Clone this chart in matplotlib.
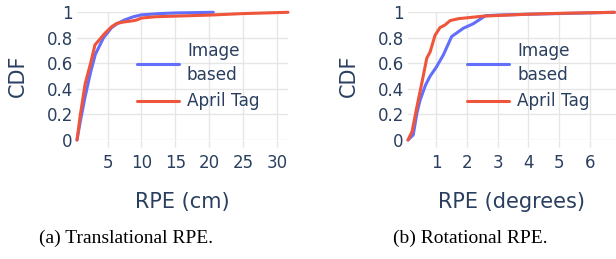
import matplotlib
matplotlib.use("Agg")
import matplotlib.pyplot as plt

# Translational RPE (cm)
trans_img_x = [0.5, 1.0, 1.7, 2.5, 3.2, 4.4, 5.6, 6.4, 7.5, 8.8, 10.0, 12.7, 15.0, 20.6]
trans_img_y = [0.0, 0.15, 0.34, 0.53, 0.67, 0.80, 0.88, 0.91, 0.94, 0.965, 0.98, 0.99, 0.995, 1.0]
trans_tag_x = [0.5, 1.0, 1.7, 2.5, 3.15, 4.6, 5.6, 6.35, 7.5, 8.8, 9.3, 10.0, 12.0, 15.0, 20.0, 25.0, 31.6]
trans_tag_y = [0.0, 0.2, 0.44, 0.6, 0.745, 0.835, 0.887, 0.913, 0.925, 0.934, 0.94, 0.955, 0.965, 0.97, 0.978, 0.99, 1.0]

# Rotational RPE (degrees)
rot_img_x = [0.08, 0.25, 0.37, 0.47, 0.65, 0.8, 1.0, 1.23, 1.5, 1.88, 2.2, 2.6, 3.0, 4.0, 5.0, 6.8]
rot_img_y = [0.0, 0.04, 0.21, 0.31, 0.43, 0.5, 0.57, 0.666, 0.81, 0.875, 0.91, 0.973, 0.978, 0.985, 0.99, 1.0]
rot_tag_x = [0.08, 0.21, 0.37, 0.55, 0.69, 0.8, 0.96, 1.12, 1.28, 1.45, 1.72, 2.53, 3.0, 4.0, 5.0, 6.8]
rot_tag_y = [0.0, 0.065, 0.26, 0.47, 0.64, 0.69, 0.82, 0.88, 0.9, 0.935, 0.95, 0.97, 0.975, 0.985, 0.992, 1.0]

trans_xticks = [5, 10, 15, 20, 25, 30]
rot_xticks = [1, 2, 3, 4, 5, 6]
yticks = [0, 0.2, 0.4, 0.6, 0.8, 1.0]
ytick_labels = ["0", "0.2", "0.4", "0.6", "0.8", "1"]

BLUE = "#636efa"
RED = "#ef553b"
TXT = "#2a3f5f"
GRID = "#e6e6e6"

plt.rcParams["font.family"] = ["DejaVu Sans"]

fig = plt.figure(figsize=(6.16, 2.59), dpi=100)
W, H = 616, 259

def make_ax(l, r, t, b):
    return fig.add_axes([l / W, 1 - b / H, (r - l) / W, (b - t) / H])

ax1 = make_ax(77, 288, 12.3, 140)
ax2 = make_ax(408, 616, 12.3, 140)

panels = [
    (ax1, trans_img_x, trans_img_y, trans_tag_x, trans_tag_y, (0.5, 31.6), trans_xticks, "RPE (cm)"),
    (ax2, rot_img_x, rot_img_y, rot_tag_x, rot_tag_y, (0.08, 6.85), rot_xticks, "RPE (degrees)"),
]

TICK_FS = 12
for ax, ix, iy, tx, ty, xl, xt, xlabel in panels:
    ax.plot(ix, iy, color=BLUE, lw=2.2, label="Image\nbased", solid_capstyle="round", zorder=3)
    ax.plot(tx, ty, color=RED, lw=2.2, label="April Tag", solid_capstyle="round", zorder=4)
    ax.set_xlim(*xl)
    ax.set_ylim(0, 1)
    ax.set_xticks(xt)
    ax.set_xticklabels([str(v) for v in xt])
    ax.set_yticks(yticks)
    ax.set_yticklabels(ytick_labels)
    ax.grid(True, color=GRID, lw=1)
    ax.set_axisbelow(True)
    for s in ax.spines.values():
        s.set_visible(False)
    ax.tick_params(axis="x", colors=GRID, labelcolor=TXT, labelsize=TICK_FS, length=5, width=1, pad=5)
    ax.tick_params(axis="y", length=0, labelcolor=TXT, labelsize=TICK_FS, pad=3)
    ax.set_xlabel(xlabel, color=TXT, fontsize=15, labelpad=14.5)
    ax.set_ylabel("CDF", color=TXT, fontsize=15, labelpad=13.5)
    leg = ax.legend(loc="upper left", bbox_to_anchor=(0.284, 0.77), frameon=False,
                    fontsize=12.2, handlelength=2.5, handletextpad=0.45,
                    borderpad=0, borderaxespad=0, labelspacing=0.5)
    for t in leg.get_texts():
        t.set_color(TXT)
        t.set_linespacing(1.45)
    for ln in ax.get_lines():
        ln.set_clip_on(False)

fig.text(126 / W, 1 - 238 / H, "(a) Translational RPE.", ha="center", va="center",
         fontsize=14, family="Liberation Serif", color="black")
fig.text(470 / W, 1 - 238 / H, "(b) Rotational RPE.", ha="center", va="center",
         fontsize=14, family="Liberation Serif", color="black")

fig.savefig("out.png", dpi=100)
